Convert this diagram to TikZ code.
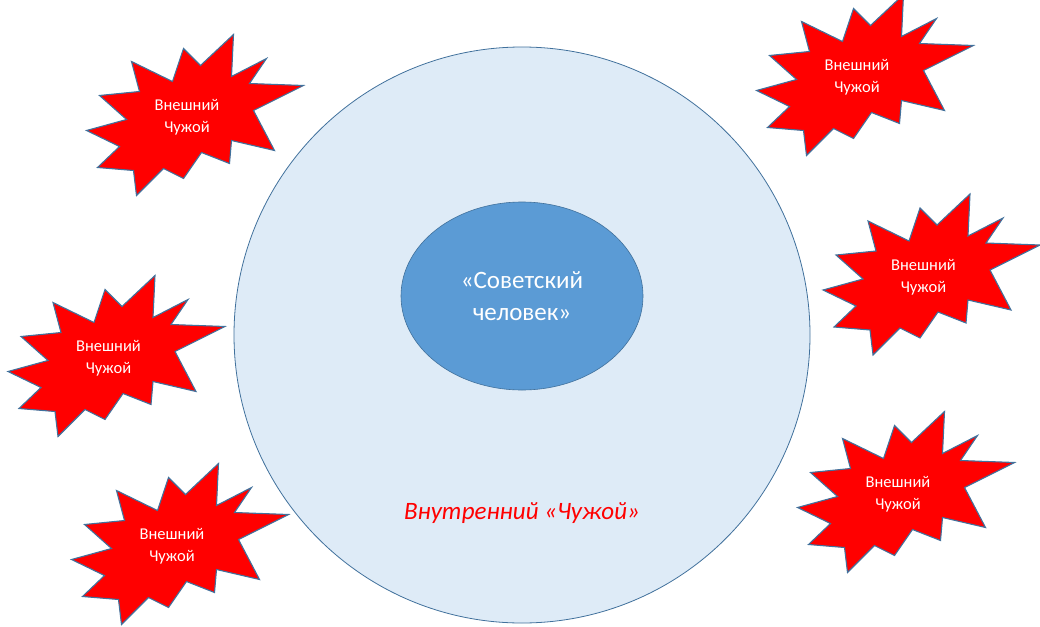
\documentclass[tikz,border=0pt]{standalone}
\usepackage{fontspec}
\setmainfont{Carlito}
\usepackage{tikz}
\usetikzlibrary{shapes.geometric,positioning}

\definecolor{okraj}{RGB}{65,113,156}
\definecolor{krug}{RGB}{222,235,247}
\definecolor{yadro}{RGB}{91,155,213}

\tikzset{
  blast/.pic={
    \draw[fill=red, draw=okraj, line width=1.1pt, line join=miter]
      (38.5,-80.5) -- (36.5,-38.5) -- (71.5,-56.5) -- (54.5,-31.5) -- (108.5,-29.5)
      -- (58.5,-4.5) -- (79.5,35.5) -- (36.5,25.5) -- (34.5,48.5) -- (6.5,37.5)
      -- (-11.5,63.5) -- (-31.5,53.5) -- (-58.5,80.5) -- (-61.5,55.5) -- (-97.5,52.5)
      -- (-75.5,31.5) -- (-108.5,15.5) -- (-68.5,4.5) -- (-95.5,-19.5) -- (-55.5,-23.5)
      -- (-63.5,-53.5) -- (-22.5,-33.5) -- (-11.5,-66.5) -- (5.5,-49.5) -- cycle;
  },
  blasttext/.style={text=white, align=center, font=\fontsize{16.5}{22}\selectfont}
}

\begin{document}
\begin{tikzpicture}[x=1pt,y=-1pt]
\useasboundingbox (0,0) rectangle (1040,626);
% большой круг
\node[circle, draw=okraj, line width=0.8pt, fill=krug, minimum size=576pt, inner sep=0pt] (krug) at (522,335) {};
% ядро
\node[ellipse, draw=okraj, line width=0.6pt, fill=yadro, minimum width=242pt, minimum height=188pt,
  text=white, align=center, font=\fontsize{25}{32}\selectfont] (chelovek) at (522,296) {«Советский\\человек»};
\node[text=red, font=\itshape\fontsize{25}{30}\selectfont] (vnutr) at (522,513) {Внутренний «Чужой»};

% внешние
\foreach \x/\y/\n in {195/115/1, 865/75/2, 116.5/356/3, 931.5/274.5/4, 180/544/5, 906/492/6}{
  \pic at (\x,\y) {blast};
  \node[blasttext] (vnesh\n) at (\x-8,\y+2.5) {Внешний\\Чужой};
}
\end{tikzpicture}
\end{document}
